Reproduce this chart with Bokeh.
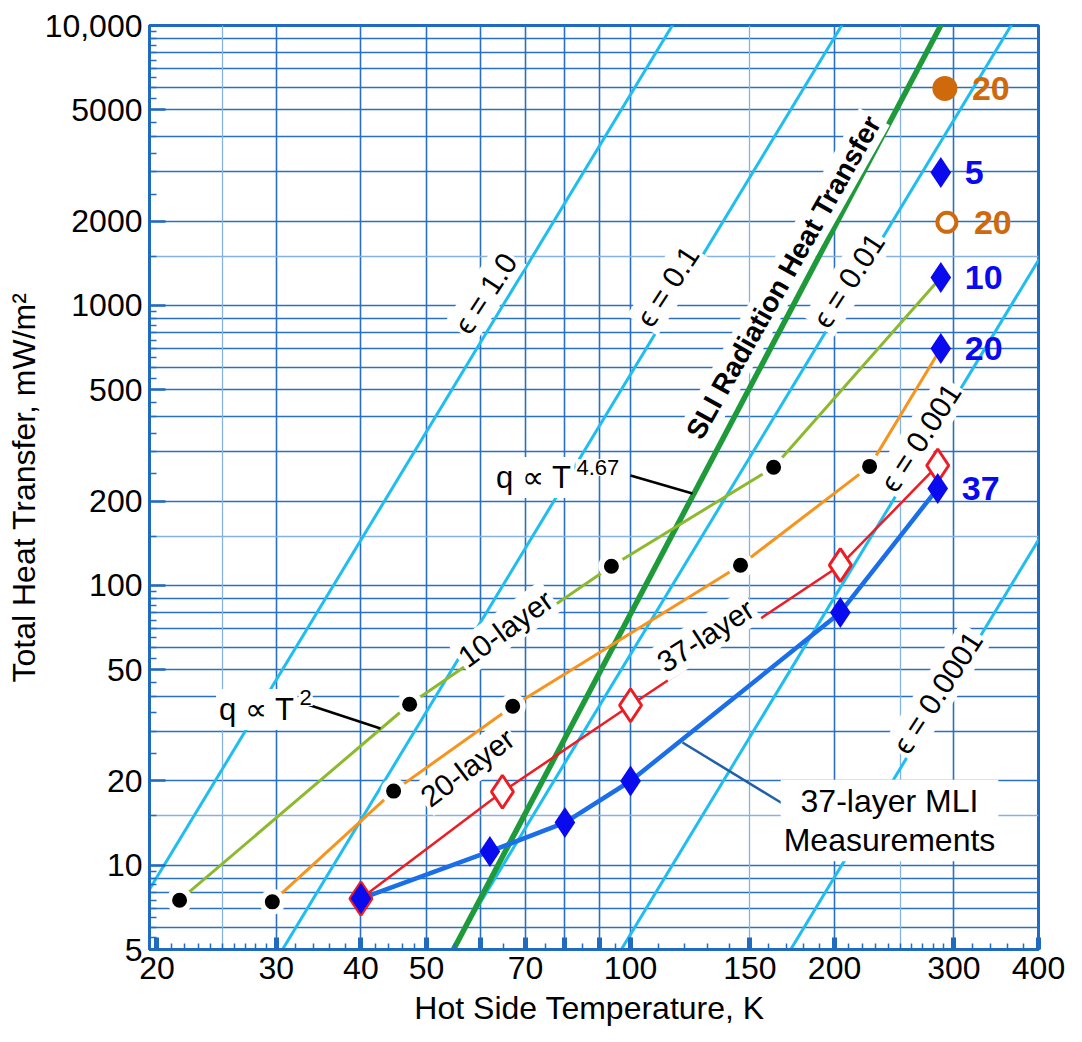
import math
from bokeh.plotting import figure
from bokeh.models import FixedTicker, CustomJSTickFormatter, Grid, Range1d, ColumnDataSource
from bokeh.core.properties import value
from bokeh.embed import file_html
from bokeh.resources import INLINE

# ---------------- axes ----------------
x_lo, x_hi = 19.5, 400.0
y_lo, y_hi = 5.0, 10000.0

x_major_ticks = [20, 30, 40, 50, 60, 70, 80, 90, 100, 150, 200, 300, 400]
x_label_vals = [20, 30, 40, 50, 70, 100, 150, 200, 300, 400]
x_label_text = ["20", "30", "40", "50", "70", "100", "150", "200", "300", "400"]
x_minor_ticks = [21, 22, 23, 24, 25, 26, 27, 28, 29, 32, 34, 36, 38, 42, 44, 46, 48,
                 55, 65, 75, 85, 95, 110, 120, 130, 140, 160, 170, 180, 190,
                 210, 220, 230, 240, 250, 260, 270, 280, 290, 320, 340, 360, 380]
x_grid_main = [30, 40, 50, 60, 70, 80, 90, 100, 200, 300]
x_grid_light = [25, 150, 250]
x_title = "Hot Side Temperature,  K"

y_label_vals = [5, 10, 20, 50, 100, 200, 500, 1000, 2000, 5000, 10000]
y_label_text = ["5", "10", "20", "50", "100", "200", "500", "1000", "2000", "5000", "10,000"]
y_grid_main = [m * 10 ** d for d in range(0, 4) for m in range(1, 10) if 5 < m * 10 ** d < 10000]
y_grid_light = [15, 150, 1500]
y_minor_ticks = [m / 2 * 10 ** d for d in range(0, 4) for m in range(2, 20)
                 if 5 <= m / 2 * 10 ** d <= 10000 and m / 2 * 10 ** d not in y_label_vals]
y_title = "Total Heat Transfer, mW/m²"

# ---------------- data ----------------
sigma_mw = 5.670e-5                       # Stefan-Boltzmann, mW/m^2/K^4
eps_vals = [1.0, 0.1, 0.01, 0.001, 0.0001]
eps_T_span = [15.0, 450.0]
eps_labels = ["ϵ = 1.0", "ϵ = 0.1", "ϵ = 0.01", "ϵ = 0.001", "ϵ = 0.0001"]

sli_T = [54.8, 290.0]
sli_q = [5.0, 10500.0]

ten_T = [21.6, 47.2, 93.7, 162.6]
ten_q = [7.5, 37.6, 117.0, 264.0]
twenty_T = [29.6, 44.7, 67.0, 145.3, 225.3]
twenty_q = [7.4, 18.4, 37.0, 118.0, 266.0]
l37_T = [40.0, 64.7, 100.0, 204.0, 284.0]
l37_q = [7.6, 18.3, 37.3, 118.0, 268.0]
mli_T = [40.0, 62.0, 80.0, 100.0, 204.0, 284.0]
mli_q = [7.6, 11.2, 14.2, 20.0, 80.0, 222.0]

side_diamond_T = [287.0, 287.0, 287.0]
side_diamond_q = [2985.0, 1259.0, 702.0]
side_diamond_lab = ["5", "10", "20"]
side_circle_T = [291.0, 293.0]
side_circle_q = [5960.0, 1980.0]
side_circle_lab = ["20", "20"]

# ---------------- colours ----------------
grid_col = "#2a70c2"
grid_light = "#86b2e2"
frame_col = "#1f6bbf"
cyan = "#1fbdf0"
sli_green = "#1f9a3a"
ten_col = "#8db92e"
twenty_col = "#f7941d"
red = "#ee1d23"
mli_line = "#1a6fe8"
dia_blue = "#0a0aee"
orange_dark = "#cf6a0c"
font = "Liberation Sans"

# frame geometry (page px) -> data helper for annotation placement
FX0, FX1, FY0, FY1 = 149.0, 1038.0, 25.0, 949.0
def at(px, py):
    lx = math.log10(x_lo) + (px - FX0) / (FX1 - FX0) * math.log10(x_hi / x_lo)
    ly = math.log10(y_hi) - (py - FY0) / (FY1 - FY0) * math.log10(y_hi / y_lo)
    return 10 ** lx, 10 ** ly

p = figure(x_axis_type="log", y_axis_type="log",
           x_range=Range1d(x_lo, x_hi), y_range=Range1d(y_lo, y_hi),
           frame_width=889, frame_height=924,
           min_border_left=149, min_border_right=30, min_border_top=25, min_border_bottom=92,
           output_backend="svg", toolbar_location=None,
           background_fill_color="white", border_fill_color="white")
p.outline_line_color = frame_col
p.outline_line_width = 3

# axes
for ax in (p.xaxis[0], p.yaxis[0]):
    ax.axis_line_color = frame_col
    ax.axis_line_width = 3
    ax.major_tick_line_color = frame_col
    ax.minor_tick_line_color = frame_col
    ax.major_tick_out = 0
    ax.minor_tick_out = 0
    ax.major_label_text_font = font
    ax.major_label_text_font_size = "32px"
    ax.major_label_text_color = "black"
    ax.axis_label_text_font = font
    ax.axis_label_text_font_size = "32px"
    ax.axis_label_text_font_style = "normal"
    ax.axis_label_text_color = "black"

xa = p.xaxis[0]
xa.ticker = FixedTicker(ticks=x_major_ticks, minor_ticks=x_minor_ticks)
xa.formatter = CustomJSTickFormatter(args=dict(vals=x_label_vals, labs=x_label_text), code="""
for (let i = 0; i < vals.length; i++) { if (Math.abs(vals[i] - tick) < 1e-6 * vals[i]) return labs[i]; }
return '';
""")
xa.major_tick_in = 12
xa.major_tick_line_width = 5
xa.minor_tick_in = 6
xa.minor_tick_line_width = 1.5
xa.major_label_standoff = 7
xa.axis_label = x_title
xa.axis_label_standoff = 8

ya = p.yaxis[0]
ya.ticker = FixedTicker(ticks=y_label_vals, minor_ticks=y_minor_ticks)
ya.formatter = CustomJSTickFormatter(args=dict(vals=y_label_vals, labs=y_label_text), code="""
for (let i = 0; i < vals.length; i++) { if (Math.abs(vals[i] - tick) < 1e-6 * vals[i]) return labs[i]; }
return '';
""")
ya.major_tick_in = 16
ya.major_tick_line_width = 2.5
ya.minor_tick_in = 7
ya.minor_tick_line_width = 1.5
ya.major_label_standoff = 7
ya.axis_label = y_title
ya.axis_label_standoff = 0

# grids
p.xgrid.ticker = FixedTicker(ticks=x_grid_main)
p.ygrid.ticker = FixedTicker(ticks=y_grid_main)
for g in (p.xgrid[0], p.ygrid[0]):
    g.grid_line_color = grid_col
    g.grid_line_width = 1.6
    g.minor_grid_line_color = None
p.add_layout(Grid(dimension=0, ticker=FixedTicker(ticks=x_grid_light), grid_line_color=grid_light, grid_line_width=1.3))
p.add_layout(Grid(dimension=1, ticker=FixedTicker(ticks=y_grid_light), grid_line_color=grid_light, grid_line_width=1.3))

# emissivity lines
eps_xs = [eps_T_span for _ in eps_vals]
eps_ys = [[e * sigma_mw * t ** 4 for t in eps_T_span] for e in eps_vals]
p.multi_line(eps_xs, eps_ys, line_color=cyan, line_width=3)

# SLI radiation line
p.line(sli_T, sli_q, line_color=sli_green, line_width=5.5)

# layer lines
p.line(ten_T + [side_diamond_T[1]], ten_q + [side_diamond_q[1]], line_color=ten_col, line_width=3)
p.line(twenty_T + [side_diamond_T[2]], twenty_q + [side_diamond_q[2]], line_color=twenty_col, line_width=3)
p.line(l37_T, l37_q, line_color=red, line_width=2.5)

# halos and dots
dots_T = ten_T + twenty_T
dots_q = ten_q + twenty_q
p.scatter(dots_T, dots_q, marker="circle", size=26, fill_color="white", line_color=None)
p.scatter(dots_T, dots_q, marker="circle", size=15, fill_color="black", line_color=None)

# MLI measurements
p.line(mli_T, mli_q, line_color=mli_line, line_width=4.5)
p.scatter(l37_T, l37_q, marker="diamond", size=33, fill_color="white", line_color=red, line_width=3)
p.scatter(mli_T, mli_q, marker="diamond", size=31, fill_color=dia_blue, line_color=None)

# side markers
p.scatter(side_diamond_T, side_diamond_q, marker="diamond", size=31, fill_color=dia_blue, line_color=None)
p.scatter(side_circle_T[:1], side_circle_q[:1], marker="circle", size=25, fill_color=orange_dark, line_color=None)
p.scatter(side_circle_T[1:], side_circle_q[1:], marker="circle", size=19, fill_color="white", line_color=orange_dark, line_width=4)

p.text(side_diamond_T + [mli_T[-1]], side_diamond_q + [mli_q[-1]], text=side_diamond_lab + ["37"],
       x_offset=24, text_align="left", text_baseline="middle", text_color=dia_blue,
       text_font=value(font), text_font_size="34px", text_font_style="bold")
p.text(side_circle_T, side_circle_q, text=side_circle_lab,
       x_offset=27, text_align="left", text_baseline="middle", text_color=orange_dark,
       text_font=value(font), text_font_size="34px", text_font_style="bold")

# leader lines
leaders_px = [((307, 704), (380, 728)), ((630, 475), (692, 493)), ((682, 742), (782, 803))]
leader_cols = ["black", "black", "#2060a8"]
lx, ly = [], []
for a, b in leaders_px:
    t1, q1 = at(*a)
    t2, q2 = at(*b)
    lx.append([t1, t2]); ly.append([q1, q2])
p.multi_line(lx, ly, line_color=leader_cols, line_width=2.5)

# rotated labels
lab_px = [(485, 293), (667, 286), (848, 280), (920, 437), (937, 692),
          (505, 628), (467, 767), (705, 635)]
lab_text = eps_labels + ["10-layer", "20-layer", "37-layer"]
lab_ang = [57, 57, 57, 57, 57, 36, 37, 33]
pos = [at(*q) for q in lab_px]
src = ColumnDataSource(dict(x=[a for a, b in pos], y=[b for a, b in pos], t=lab_text, ang=lab_ang))
p.text("x", "y", text="t", angle="ang", angle_units="deg", source=src,
       text_align="center", text_baseline="middle", text_color="black",
       text_font=value(font), text_font_size="30px",
       background_fill_color="white", padding=2)

sx, sy = at(783, 277)
p.text([sx], [sy], text=["SLI Radiation Heat Transfer"], angle=60.5, angle_units="deg",
       text_align="center", text_baseline="middle", text_color="black",
       text_font=value(font), text_font_size="28px", text_font_style="bold",
       background_fill_color="white", padding=2)

# q ~ T^n annotations
for (px, py, main), (spx, spy, sup) in [((297, 709, "q ∝ T"), (298, 697, "2")),
                                       ((574, 477, "q ∝ T"), (575, 467, "4.67"))]:
    mx, my = at(px, py)
    ux, uy = at(spx, spy)
    p.text([mx], [my], text=[main], text_align="right", text_baseline="alphabetic",
           text_font=value(font), text_font_size="31px", text_color="black",
           background_fill_color="white", padding=3)
    p.text([ux], [uy], text=[sup], text_align="left", text_baseline="alphabetic",
           text_font=value(font), text_font_size="22px", text_color="black",
           background_fill_color="white", padding=1)

mx, my = at(889, 820)
p.text([mx], [my], text=["37-layer MLI\nMeasurements"], text_align="center", text_baseline="middle",
       text_font=value(font), text_font_size="32px", text_color="black", text_line_height=1.1,
       background_fill_color="white", padding=3)

open("out.html", "w").write(file_html(p, INLINE))
